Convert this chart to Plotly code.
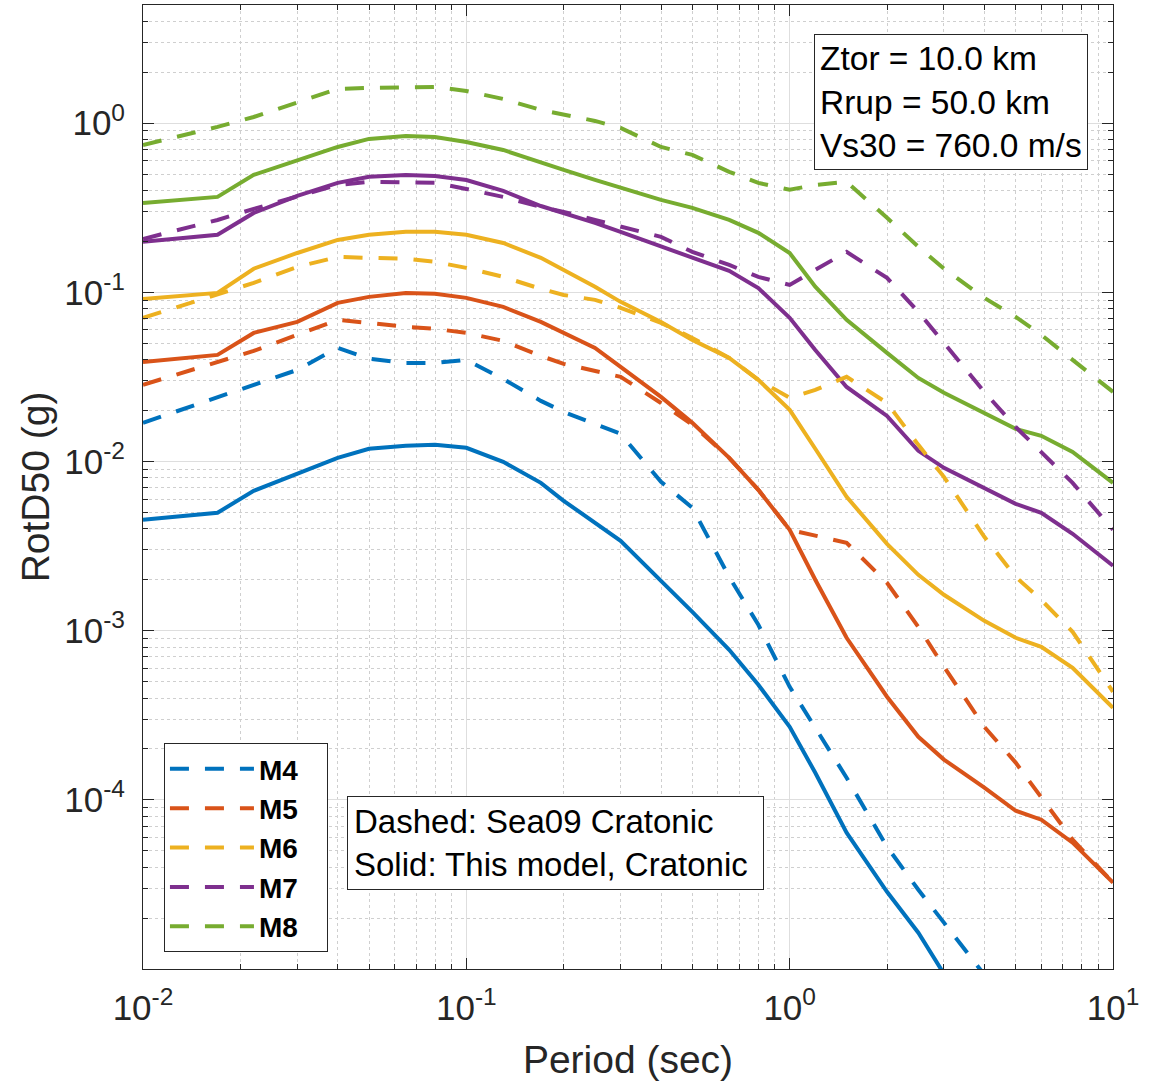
import plotly.graph_objects as go

# Periods (sec)
periods = [0.01, 0.017, 0.022, 0.03, 0.04, 0.05, 0.065, 0.08, 0.1, 0.13, 0.17, 0.2,
           0.25, 0.3, 0.4, 0.5, 0.65, 0.8, 1.0, 1.2, 1.5, 2.0, 2.5, 3.0, 4.0, 5.0,
           6.0, 7.5, 10.0]

# This model, Cratonic (solid)
m4_model = [0.00452, 0.00498, 0.00671, 0.00846, 0.01052, 0.0119, 0.01238, 0.01255, 0.01205,
            0.00996, 0.00748, 0.00586, 0.00434, 0.00340, 0.00197, 0.001293, 0.000771,
            0.000479, 0.000270, 0.0001446, 0.0000639, 0.0000286, 0.0000164, 0.00000925,
            0.00000387]
m5_model = [0.0388, 0.0427, 0.0576, 0.0669, 0.0867, 0.0941, 0.0993, 0.0980, 0.0928, 0.0821,
            0.0669, 0.0576, 0.0470, 0.0363, 0.0241, 0.01693, 0.01052, 0.00680, 0.00395,
            0.00200, 0.000908, 0.000407, 0.000236, 0.000173, 0.000118, 0.0000862,
            0.0000763, 0.0000558, 0.0000324]
m6_model = [0.0915, 0.0993, 0.138, 0.171, 0.2043, 0.219, 0.228, 0.228, 0.219, 0.196, 0.160,
            0.1358, 0.108, 0.0879, 0.0669, 0.0524, 0.0410, 0.0304, 0.0202, 0.0119, 0.00619,
            0.00326, 0.00214, 0.00163, 0.001144, 0.000908, 0.000803, 0.000604, 0.000350]
m7_model = [0.199, 0.219, 0.295, 0.372, 0.444, 0.482, 0.495, 0.488, 0.462, 0.398, 0.324,
            0.295, 0.2575, 0.228, 0.188, 0.162, 0.134, 0.106, 0.0707, 0.0457, 0.0276,
            0.0186, 0.01157, 0.00918, 0.00699, 0.00562, 0.00498, 0.00374, 0.00242]
m8_model = [0.338, 0.367, 0.495, 0.607, 0.724, 0.808, 0.841, 0.830, 0.775, 0.695, 0.582,
            0.530, 0.462, 0.415, 0.352, 0.316, 0.268, 0.225, 0.171, 0.108, 0.0688, 0.0439,
            0.0312, 0.0255, 0.0194, 0.0156, 0.0142, 0.0114, 0.00748]

# Sea09 Cratonic (dashed)
m4_sea09 = [0.01693, 0.0241, 0.0284, 0.0348, 0.0470, 0.0405, 0.0383, 0.0383, 0.0399, 0.0308,
            0.02284, 0.01966, 0.0167, 0.01458, 0.00759, 0.00533, 0.00208, 0.001084,
            0.000466, 0.000267, 0.000135, 0.0000528, 0.0000294, 0.0000188, 0.00000925]
m5_sea09 = [0.0284, 0.0388, 0.0451, 0.0561, 0.0688, 0.0660, 0.0625, 0.0609, 0.0576, 0.0517,
            0.0421, 0.0378, 0.0344, 0.0317, 0.0222, 0.01648, 0.01052, 0.00680, 0.00395,
            0.00364, 0.00331, 0.00192, 0.001054, 0.000612, 0.000270, 0.000166, 0.0001043,
            0.0000581, 0.0000324]
m6_sea09 = [0.0707, 0.0966, 0.1138, 0.1415, 0.162, 0.160, 0.158, 0.1515, 0.1396, 0.1235,
            0.1049, 0.0966, 0.0903, 0.0810, 0.0660, 0.0538, 0.0410, 0.0304, 0.0238, 0.0265,
            0.0317, 0.0222, 0.01255, 0.00812, 0.00359, 0.00208, 0.00152, 0.000985, 0.000435]
m7_sea09 = [0.207, 0.268, 0.3114, 0.367, 0.432, 0.450, 0.450, 0.444, 0.409, 0.367, 0.320,
            0.299, 0.268, 0.244, 0.213, 0.1735, 0.1454, 0.1235, 0.1107, 0.1358, 0.1735,
            0.1218, 0.0767, 0.0503, 0.0258, 0.0160, 0.0114, 0.00748, 0.00395]
m8_sea09 = [0.744, 0.951, 1.089, 1.336, 1.595, 1.617, 1.639, 1.639, 1.552, 1.392, 1.198,
            1.12, 1.032, 0.938, 0.724, 0.650, 0.516, 0.444, 0.404, 0.432, 0.450, 0.276,
            0.186, 0.138, 0.0928, 0.0716, 0.0561, 0.0399, 0.0258]

labels = ["M4", "M5", "M6", "M7", "M8"]
colors = ["#0072BD", "#D95319", "#EDB120", "#7E2F8E", "#77AC30"]
model_series = [m4_model, m5_model, m6_model, m7_model, m8_model]
sea09_series = [m4_sea09, m5_sea09, m6_sea09, m7_sea09, m8_sea09]

x_tickvals = [0.01, 0.1, 1, 10]
x_ticktext = ["10<sup>-2</sup>", "10<sup>-1</sup>", "10<sup>0</sup>", "10<sup>1</sup>"]
y_tickvals = [1e-4, 1e-3, 1e-2, 1e-1, 1]
y_ticktext = ["10<sup>-4</sup>", "10<sup>-3</sup>", "10<sup>-2</sup>", "10<sup>-1</sup>", "10<sup>0</sup>"]

FONT = "Liberation Sans, Arial, Helvetica, sans-serif"
AX = "#262626"

fig = go.Figure()
for lab, col, ys in zip(labels, colors, model_series):
    fig.add_trace(go.Scatter(x=periods[:len(ys)], y=ys, mode="lines",
                             line=dict(color=col, width=4), showlegend=False))
for lab, col, ys in zip(labels, colors, sea09_series):
    fig.add_trace(go.Scatter(x=periods[:len(ys)], y=ys, mode="lines",
                             name="<b>" + lab + "</b>\u00a0\u00a0\u00a0",
                             line=dict(color=col, width=4, dash="19px,16px")))

minor_x = [m * 10 ** e for e in (-2, -1, 0) for m in range(2, 10)]
minor_y = [m * 10 ** e for e in (-5, -4, -3, -2, -1, 0) for m in range(2, 10)]

fig.update_layout(
    width=1153, height=1083,
    margin=dict(l=143, r=40, t=5, b=114),
    paper_bgcolor="white", plot_bgcolor="white",
    font=dict(family=FONT, color=AX, size=34),
    legend=dict(x=0.0216, y=0.2344, xanchor="left", yanchor="top",
                bgcolor="white", bordercolor=AX, borderwidth=1,
                font=dict(family=FONT, size=28, color="black"),
                itemwidth=84, tracegroupgap=0),
    annotations=[
        dict(xref="paper", yref="paper", x=0.6918, y=0.97, xanchor="left", yanchor="top",
             text="Ztor = 10.0 km<br>Rrup = 50.0 km<br>Vs30 = 760.0 m/s",
             align="left", showarrow=False, bordercolor=AX, borderwidth=1, borderpad=5,
             bgcolor="white", font=dict(family=FONT, size=33.5, color="black")),
        dict(xref="paper", yref="paper", x=0.2103, y=0.1795, xanchor="left", yanchor="top",
             text="Dashed: Sea09 Cratonic<br>Solid: This model, Cratonic\u00a0",
             align="left", showarrow=False, bordercolor=AX, borderwidth=1, borderpad=6,
             bgcolor="white", font=dict(family=FONT, size=33, color="black")),
    ],
)

fig.update_xaxes(
    type="log", range=[-2, 1],
    tickmode="array", tickvals=x_tickvals, ticktext=x_ticktext,
    ticks="inside", ticklen=11, tickcolor=AX, tickwidth=1,
    showline=True, linecolor=AX, linewidth=1, mirror="allticks",
    showgrid=True, gridcolor="#dedede", gridwidth=1,
    tickfont=dict(family=FONT, size=35, color=AX),
    ticklabelstandoff=8,
    title=dict(text="Period (sec)", font=dict(family=FONT, size=39, color=AX), standoff=19),
    minor=dict(tickmode="array", tickvals=minor_x, ticks="inside", ticklen=5, tickcolor=AX,
               showgrid=True, gridcolor="#cfcfcf", griddash="dot", gridwidth=1),
    zeroline=False,
)
fig.update_yaxes(
    type="log", range=[-5, 0.699],
    tickmode="array", tickvals=y_tickvals, ticktext=y_ticktext,
    ticks="inside", ticklen=11, tickcolor=AX, tickwidth=1,
    showline=True, linecolor=AX, linewidth=1, mirror="allticks",
    showgrid=True, gridcolor="#dedede", gridwidth=1,
    tickfont=dict(family=FONT, size=35, color=AX),
    ticklabelstandoff=10,
    title=dict(text="RotD50 (g)", font=dict(family=FONT, size=39, color=AX), standoff=2),
    minor=dict(tickmode="array", tickvals=minor_y, ticks="inside", ticklen=5, tickcolor=AX,
               showgrid=True, gridcolor="#cfcfcf", griddash="dot", gridwidth=1),
    zeroline=False,
)

fig.write_html("out.html")
